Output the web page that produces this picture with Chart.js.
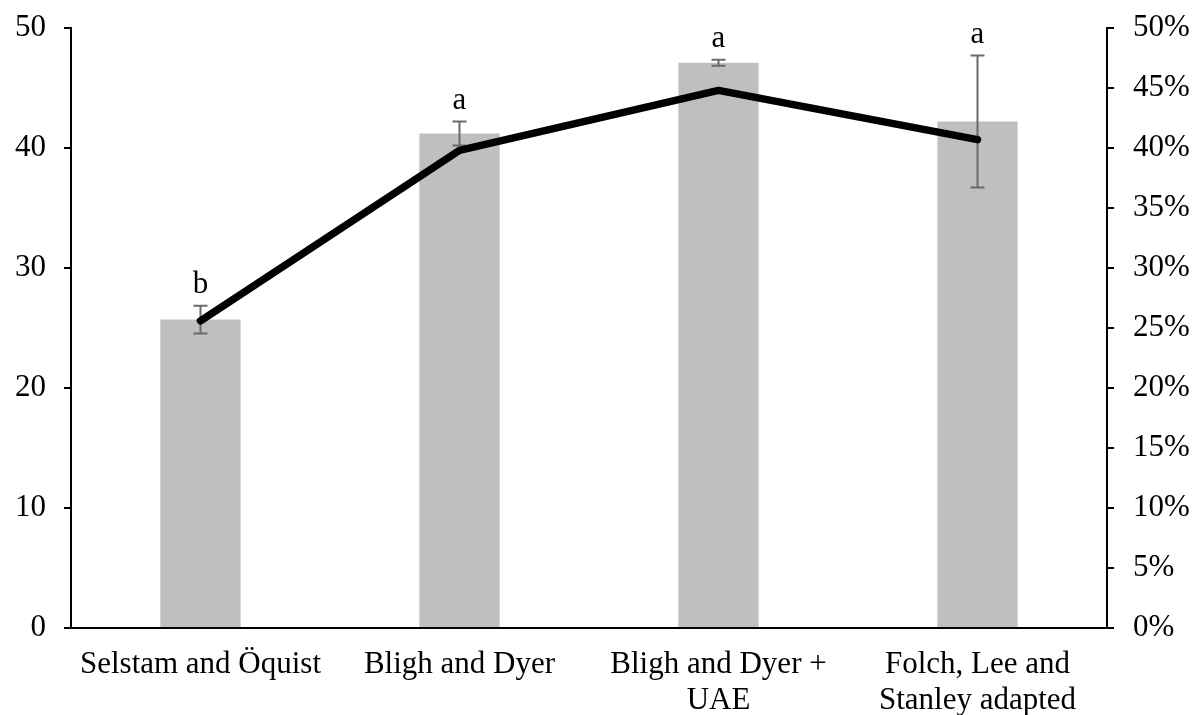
<!DOCTYPE html>
<html>
<head>
<meta charset="utf-8">
<script src="https://cdn.jsdelivr.net/npm/chart.js@4/dist/chart.umd.min.js"></script>
<style>
html,body{margin:0;padding:0;background:#fff;}
#wrap{width:1204px;height:715px;}
</style>
</head>
<body>
<div id="wrap"><canvas id="c" width="1204" height="715"></canvas></div>
<script>
const categories = ["Selstam and Öquist", "Bligh and Dyer", ["Bligh and Dyer +", "UAE"], ["Folch, Lee and", "Stanley adapted"]];
const barValues = [25.7, 41.2, 47.1, 42.2];
const errorValues = [1.15, 1.0, 0.25, 5.5];
const letters = ["b", "a", "a", "a"];
const lineValues = [0.256, 0.398, 0.448, 0.407];
const leftTicks = [0, 10, 20, 30, 40, 50];

const FONT = "'Liberation Serif', 'Times New Roman', serif";
const FS = 31;

const errorBarPlugin = {
  id: 'errorBars',
  afterDatasetDraw(chart, args) {
    if (args.index !== 0) return;
    const ctx = chart.ctx;
    const meta = chart.getDatasetMeta(0);
    const y = chart.scales.y;
    ctx.save();
    ctx.strokeStyle = '#6a6a6a';
    ctx.lineWidth = 2;
    meta.data.forEach((bar, i) => {
      const x = bar.x;
      const top = y.getPixelForValue(barValues[i] + errorValues[i]);
      const bot = y.getPixelForValue(barValues[i] - errorValues[i]);
      ctx.beginPath();
      ctx.moveTo(x, top); ctx.lineTo(x, bot);
      ctx.moveTo(x - 7, top); ctx.lineTo(x + 7, top);
      ctx.moveTo(x - 7, bot); ctx.lineTo(x + 7, bot);
      ctx.stroke();
    });
    ctx.restore();
  },
  afterDatasetsDraw(chart) {
    const ctx = chart.ctx;
    const meta = chart.getDatasetMeta(0);
    const y = chart.scales.y;
    ctx.save();
    ctx.fillStyle = '#000';
    ctx.font = FS + 'px ' + FONT;
    ctx.textAlign = 'center';
    ctx.textBaseline = 'bottom';
    meta.data.forEach((bar, i) => {
      const top = y.getPixelForValue(barValues[i] + errorValues[i]);
      ctx.fillText(letters[i], bar.x, top - 5);
    });
    ctx.restore();
  }
};

function fixV(w) {
  return function (s) { s.width = w; s.paddingTop = 5; s.paddingBottom = 5; };
}

new Chart(document.getElementById('c'), {
  data: {
    labels: categories,
    datasets: [
      {
        type: 'bar',
        data: barValues,
        backgroundColor: '#bfbfbf',
        borderWidth: 0,
        barPercentage: 0.31,
        categoryPercentage: 1.0,
        yAxisID: 'y',
        order: 2
      },
      {
        type: 'line',
        data: lineValues,
        borderColor: '#000',
        borderWidth: 7.5,
        pointRadius: 0,
        tension: 0,
        borderCapStyle: 'round',
        borderJoinStyle: 'round',
        yAxisID: 'y2',
        order: 1
      }
    ]
  },
  options: {
    responsive: false,
    animation: false,
    devicePixelRatio: 1,
    layout: { padding: { top: 28, left: 0, right: 0, bottom: 0 } },
    plugins: { legend: { display: false }, tooltip: { enabled: false } },
    scales: {
      x: {
        grid: { display: false },
        border: { display: true, color: '#000', width: 2 },
        ticks: { color: '#000', font: { family: FONT, size: FS, lineHeight: 1.15 }, padding: 11, maxRotation: 0, autoSkip: false },
        afterFit(s) { s.height = 87; }
      },
      y: {
        position: 'left',
        min: 0, max: 50,
        afterBuildTicks(s) { s.ticks = leftTicks.map(v => ({ value: v })); },
        grid: { drawOnChartArea: false, color: '#000', lineWidth: 2, tickLength: 7 },
        border: { display: true, color: '#000', width: 2 },
        ticks: { color: '#000', font: { family: FONT, size: FS }, padding: 18 },
        afterFit: fixV(71)
      },
      y2: {
        position: 'right',
        min: 0, max: 0.5,
        ticks: {
          stepSize: 0.05,
          color: '#000', font: { family: FONT, size: FS }, padding: 19,
          callback: v => Math.round(v * 100) + '%'
        },
        grid: { drawOnChartArea: false, color: '#000', lineWidth: 2, tickLength: 7 },
        border: { display: true, color: '#000', width: 2 },
        afterFit: fixV(97)
      }
    }
  },
  plugins: [errorBarPlugin]
});
</script>
</body>
</html>
